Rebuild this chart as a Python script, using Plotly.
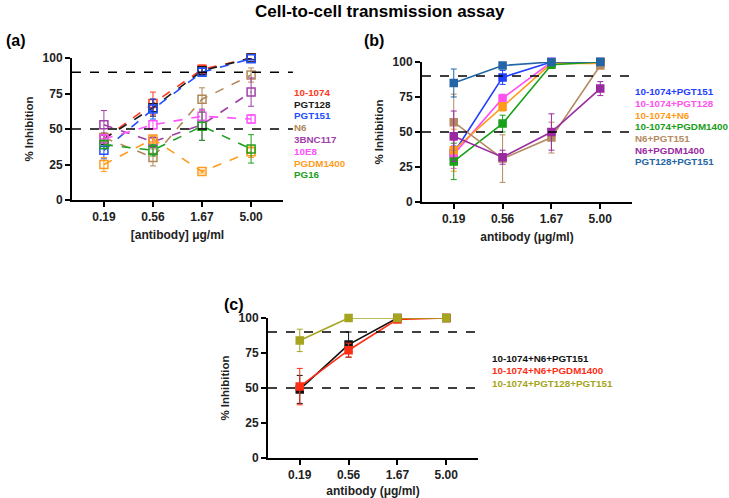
import plotly.graph_objects as go

# ---------------- data ----------------
doses = ["0.19", "0.56", "1.67", "5.00"]
y_ticks = [0, 25, 50, 75, 100]
ref_lines = [90, 50]

# Panel (a): single antibodies (open squares, dashed)
a_names = ["10-1074", "PGT128", "PGT151", "N6", "3BNC117", "10E8", "PGDM1400", "PG16"]
a_colors = ["#ff3a22", "#1a1a1a", "#2050ff", "#b08858", "#a040a8", "#ff50ff", "#ff9c1c", "#20a020"]
a_vals = [
    [43, 68, 92, 100],
    [43, 65, 91, 100],
    [35, 64, 90, 99.5],
    [44, 30, 71, 88],
    [53, 41, 53, 76],
    [43, 53, 59, 57],
    [25, 43, 20, 34],
    [39, 35, 52, 36],
]
a_err = [
    [4, 8, 3, 1],
    [4, 6, 3, 1],
    [6, 7, 3, 1],
    [3, 6, 8, 5],
    [10, 4, 11, 10],
    [3, 3, 4, 3],
    [5, 2, 1, 4],
    [3, 4, 10, 10],
]

# Panel (b): double combinations (filled squares, solid)
b_names = ["10-1074+PGT151", "10-1074+PGT128", "10-1074+N6", "10-1074+PGDM1400",
           "N6+PGT151", "N6+PGDM1400", "PGT128+PGT151"]
b_colors = ["#1f40ff", "#ff50f0", "#ff9a1a", "#18a018", "#b58a60", "#9a2aa0", "#2465a5"]
b_vals = [
    [35, 89, 100, 100],
    [34, 74, 100, 100],
    [37, 68, 99, 99],
    [29, 56, 98, 100],
    [57, 31, 46, 97.5],
    [47, 32, 50, 81],
    [85, 97.5, 100, 100],
]
b_err = [
    [5, 5, 1, 1],
    [10, 3, 1, 1],
    [15, 3, 1, 1],
    [13, 6, 1, 1],
    [20, 17, 11, 1],
    [18, 5, 13, 5],
    [10, 1, 1, 1],
]

# Panel (c): triple combinations
c_names = ["10-1074+N6+PGT151", "10-1074+N6+PGDM1400", "10-1074+PGT128+PGT151"]
c_colors = ["#111111", "#ff2e14", "#a5a520"]
c_vals = [
    [49, 81, 100, 100],
    [51, 77, 99, 100],
    [84, 100, 100, 100],
]
c_err = [
    [10, 9, 1, 1],
    [13, 5, 1, 1],
    [8, 1, 1, 1],
]

W, H = 729, 498
FONT = "Liberation Sans, Arial, sans-serif"

def px_x(a, b):
    return [a / W, b / W]

def px_y(top, bottom):
    return [1 - bottom / H, 1 - top / H]

panels = [
    dict(names=a_names, colors=a_colors, vals=a_vals, err=a_err, open_=True,
         xd=px_x(72, 283), yd=px_y(58, 200), xtitle="[antibody] μg/ml",
         leg_x=292, leg_y=92.3, leg_dy=11.8, dash_end=1.047, label="(a)", label_xy=(4, 40)),
    dict(names=b_names, colors=b_colors, vals=b_vals, err=b_err, open_=False,
         xd=px_x(422, 632), yd=px_y(62, 202), xtitle="antibody (μg/ml)",
         leg_x=633, leg_y=91.7, leg_dy=11.67, dash_end=1.01, label="(b)", label_xy=(362, 40)),
    dict(names=c_names, colors=c_colors, vals=c_vals, err=c_err, open_=False,
         xd=px_x(268, 478), yd=px_y(318, 458), xtitle="antibody (μg/ml)",
         leg_x=490, leg_y=358, leg_dy=12.5, dash_end=1.0, label="(c)", label_xy=(222, 304)),
]

fig = go.Figure()
xs = list(range(len(doses)))
annotations = []
shapes = []

for i, p in enumerate(panels):
    k = "" if i == 0 else str(i + 1)
    xa, ya = "x" + k, "y" + k
    for name, col, v, e in zip(p["names"], p["colors"], p["vals"], p["err"]):
        fig.add_trace(go.Scatter(
            x=xs, y=v, name=name, xaxis=xa, yaxis=ya, mode="lines+markers",
            line=dict(color=col, width=1.6, dash="dash" if p["open_"] else "solid"),
            marker=dict(symbol="square-open" if p["open_"] else "square", size=8 if p["open_"] else 7,
                        color=col, line=dict(color=col, width=1.5)),
            error_y=dict(type="data", array=e, visible=True, color=col, thickness=1, width=3),
            cliponaxis=False, showlegend=False,
        ))
    common_axis = dict(showline=True, linecolor="black", linewidth=2, ticks="outside",
                       ticklen=5, tickwidth=2, tickcolor="black", showgrid=False, zeroline=False,
                       automargin=False,
                       tickfont=dict(family=FONT, size=12, color="#222", weight="bold"))
    fig.update_layout({
        "xaxis" + k: dict(domain=p["xd"], range=[-0.65, 3.65], tickvals=xs, ticktext=doses,
                          anchor=ya, title=dict(text=p["xtitle"], standoff=7,
                                                font=dict(family=FONT, size=12, color="#222", weight="bold")),
                          **common_axis),
        "yaxis" + k: dict(domain=p["yd"], range=[0, 100], tickvals=y_ticks, anchor=xa,
                          title=dict(text="% Inhibition", standoff=7,
                                     font=dict(family=FONT, size=11.5, color="#222", weight="bold")),
                          **common_axis),
    })
    for r in ref_lines:
        shapes.append(dict(type="line", xref=xa + " domain", yref=ya, x0=0, x1=p["dash_end"],
                           y0=r, y1=r, line=dict(color="black", width=1.5, dash="dash")))
    for j, (name, col) in enumerate(zip(p["names"], p["colors"])):
        annotations.append(dict(text=name, xref="paper", yref="paper", showarrow=False,
                                x=p["leg_x"] / W, y=1 - (p["leg_y"] + j * p["leg_dy"]) / H,
                                xanchor="left", yanchor="middle",
                                font=dict(family=FONT, size=9.8, color=col, weight="bold")))
    lx, ly = p["label_xy"]
    annotations.append(dict(text=p["label"], xref="paper", yref="paper", showarrow=False,
                            x=lx / W, y=1 - ly / H, xanchor="left", yanchor="middle",
                            font=dict(family=FONT, size=16, color="black", weight="bold")))

annotations.append(dict(text="Cell-to-cell transmission assay", xref="paper", yref="paper",
                        showarrow=False, x=380 / W, y=1 - 12 / H, xanchor="center", yanchor="middle",
                        font=dict(family=FONT, size=17, color="black", weight="bold")))

fig.update_layout(width=W, height=H, margin=dict(l=0, r=0, t=0, b=0),
                  paper_bgcolor="white", plot_bgcolor="white",
                  annotations=annotations, shapes=shapes, showlegend=False)

fig.write_html("out.html", config={"displayModeBar": False},
               post_script="document.body.style.margin='0px';")
